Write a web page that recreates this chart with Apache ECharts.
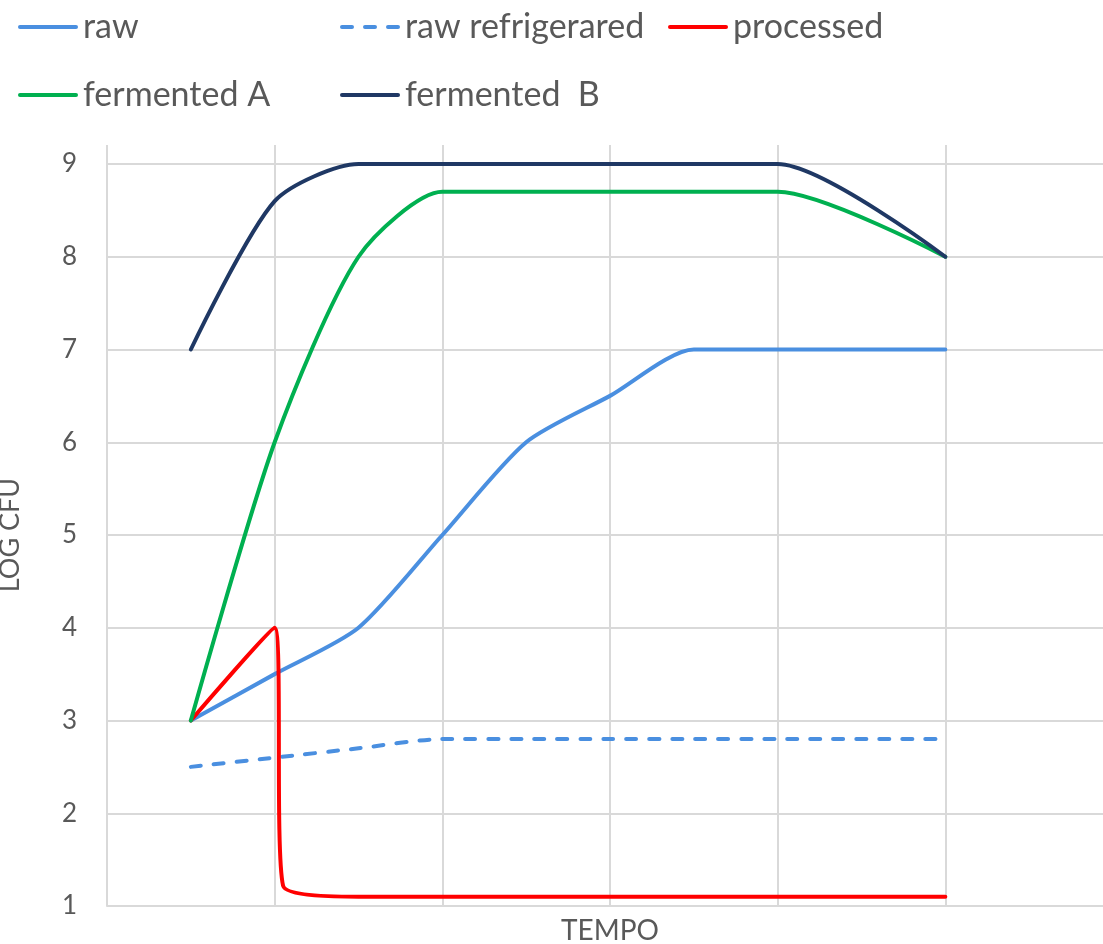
<!DOCTYPE html>
<html>
<head>
<meta charset="utf-8">
<script src="https://cdn.jsdelivr.net/npm/echarts@6/dist/echarts.min.js"></script>
<style>
html,body{margin:0;padding:0;background:#fff;}
#chart{width:1103px;height:944px;}
</style>
</head>
<body>
<div id="chart"></div>
<script>
// ---- data ----
const tempo = [0.5, 1, 1.5, 2, 2.5, 3, 3.5, 4, 5];
const raw = [3, 3.5, 4, 5, 6, 6.5, 7, 7, 7];
const rawRefrigerated = [2.5, 2.6, 2.7, 2.8, 2.8, 2.8, 2.8, 2.8, 2.8];
const fermentedA = [3, 6, 8.0, 8.7, 8.7, 8.7, 8.7, 8.7, 8];
const fermentedB = [7, 8.6, 9, 9, 9, 9, 9, 9, 8];
const processedTempo = [0.5, 1, 1.05, 1.5, 2, 2.5, 3, 3.5, 4, 5];
const processed = [3, 4, 1.22, 1.1, 1.1, 1.1, 1.1, 1.1, 1.1, 1.1];
const seriesNames = ['raw', 'raw refrigerared', 'processed', 'fermented A', 'fermented  B'];
const yTicks = [1, 2, 3, 4, 5, 6, 7, 8, 9];

const FONT = 'Lato';
const TXT = '#595959';
const GRIDC = '#d9d9d9';
const colors = ['#4a8fe0', '#4a8fe0', '#ff0000', '#00b050', '#1f3864'];

const SOLID_ICON = 'path://M2,0h56a2,2 0 0 1 0,4h-56a2,2 0 0 1 0,-4z';
const DASH_ICON = 'path://M2,0h10a2,2 0 0 1 0,4h-10a2,2 0 0 1 0,-4z M25,0h10a2,2 0 0 1 0,4h-10a2,2 0 0 1 0,-4z M48,0h10a2,2 0 0 1 0,4h-10a2,2 0 0 1 0,-4z';

function pairs(xs, ys) { return xs.map((x, i) => [x, ys[i]]); }

function legendAt(idx, left, top, dashed) {
  return {
    data: [{ name: seriesNames[idx], icon: dashed ? DASH_ICON : SOLID_ICON, itemStyle: { color: colors[idx] } }],
    left: left, top: top, padding: 0, itemGap: 0,
    itemWidth: 60, itemHeight: 5,
    textStyle: { fontFamily: FONT, fontSize: 34, color: TXT, lineHeight: 34 }
  };
}

function lineSeries(name, data, color, dashed, z) {
  return {
    name: name, type: 'line', data: data, xAxisIndex: 0, yAxisIndex: 0,
    symbol: 'none', showSymbol: false, smooth: 0.25, z: z,
    lineStyle: { color: color, width: 4, cap: 'round', join: 'round', type: dashed ? [10, 13] : 'solid' },
    itemStyle: { color: color }
  };
}

const chart = echarts.init(document.getElementById('chart'), null, { renderer: 'canvas' });
chart.setOption({
  animation: false,
  backgroundColor: '#ffffff',
  legend: [
    legendAt(0, 18, 10, false),
    legendAt(1, 340, 10, true),
    legendAt(2, 668, 10, false),
    legendAt(3, 18, 78, false),
    legendAt(4, 340, 78, false)
  ],
  grid: [
    { left: 107, right: -10, top: 164, bottom: 38, outerBoundsMode: 'none', containLabel: false },
    { left: 107, right: -10, top: 145, bottom: 38, outerBoundsMode: 'none', containLabel: false }
  ],
  xAxis: [
    {
      gridIndex: 0, type: 'value', min: 0, max: 6, interval: 1,
      name: 'TEMPO', nameLocation: 'middle', nameGap: 11,
      nameTextStyle: { fontFamily: FONT, fontSize: 28, color: TXT },
      axisLine: { show: true, lineStyle: { color: GRIDC, width: 2 } },
      axisTick: { show: false }, axisLabel: { show: false },
      splitLine: { show: false }
    },
    {
      gridIndex: 1, type: 'value', min: 0, max: 6, interval: 1,
      axisLine: { show: false }, axisTick: { show: false }, axisLabel: { show: false },
      splitLine: { show: true, lineStyle: { color: GRIDC, width: 2 } }
    }
  ],
  yAxis: [
    {
      gridIndex: 0, type: 'value', min: yTicks[0], max: yTicks[yTicks.length - 1], interval: 1,
      name: 'LOG CFU', nameLocation: 'middle', nameGap: 83,
      nameTextStyle: { fontFamily: FONT, fontSize: 27, color: TXT },
      axisLine: { show: false }, axisTick: { show: false },
      axisLabel: { fontFamily: FONT, fontSize: 26, color: TXT, margin: 30 },
      splitLine: { show: true, lineStyle: { color: GRIDC, width: 2 } }
    },
    {
      gridIndex: 1, type: 'value', min: 0, max: 1, show: false,
      splitLine: { show: false }
    }
  ],
  series: [
    lineSeries(seriesNames[0], pairs(tempo, raw), colors[0], false, 2),
    lineSeries(seriesNames[1], pairs(tempo, rawRefrigerated), colors[1], true, 3),
    lineSeries(seriesNames[2], pairs(processedTempo, processed), colors[2], false, 4),
    lineSeries(seriesNames[3], pairs(tempo, fermentedA), colors[3], false, 5),
    lineSeries(seriesNames[4], pairs(tempo, fermentedB), colors[4], false, 6)
  ]
});
</script>
</body>
</html>
